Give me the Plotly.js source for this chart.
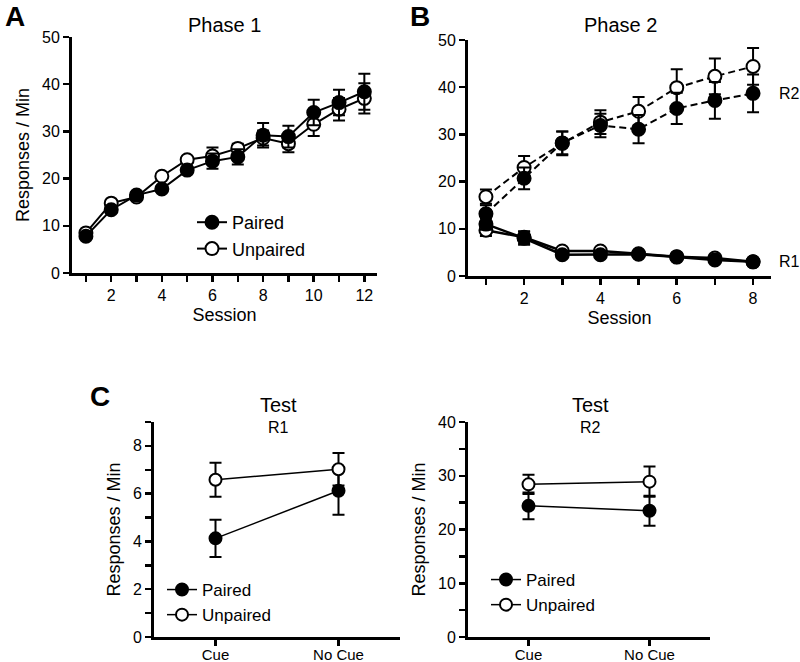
<!DOCTYPE html>
<html>
<head>
<meta charset="utf-8">
<script src="https://cdn.plot.ly/plotly-3.0.1.min.js"></script>
<style>
  html, body { margin: 0; padding: 0; background: #fff; }
  #chart { width: 800px; height: 662px; }
</style>
</head>
<body>
<div id="chart"></div>
<script>
// Phase 1 (panel A)
let sessions1 = [1, 2, 3, 4, 5, 6, 7, 8, 9, 10, 11, 12];
let p1Paired = [7.8, 13.4, 16.5, 17.8, 21.8, 23.7, 24.6, 29.2, 28.9, 34.0, 36.1, 38.4];
let p1PairedErr = [0.5, 0.6, 0.6, 0.6, 0.7, 1.6, 1.6, 2.6, 2.3, 2.7, 2.7, 3.8];
let p1Unpaired = [8.5, 14.8, 16.1, 20.5, 24.0, 24.8, 26.4, 28.6, 27.4, 31.5, 34.7, 37.0];
let p1UnpairedErr = [0.5, 0.6, 0.6, 0.6, 0.7, 1.8, 1.0, 1.6, 1.8, 2.5, 2.4, 3.2];

// Phase 2 (panel B)
let sessions2 = [1, 2, 3, 4, 5, 6, 7, 8];
let r2Paired = [13.2, 20.7, 28.2, 31.9, 31.1, 35.5, 37.2, 38.7];
let r2PairedErr = [1.8, 2.3, 2.4, 2.5, 3.0, 3.3, 3.9, 4.0];
let r2Unpaired = [16.8, 23.0, 28.1, 32.6, 34.9, 39.9, 42.3, 44.4];
let r2UnpairedErr = [1.5, 2.4, 2.5, 2.5, 3.0, 3.9, 3.8, 3.9];
let r1Paired = [11.0, 8.0, 4.5, 4.5, 4.6, 4.0, 3.4, 3.0];
let r1PairedErr = [1.2, 1.4, 0.5, 0.5, 0.5, 0.4, 0.4, 0.3];
let r1Unpaired = [9.7, 8.2, 5.3, 5.3, 4.7, 4.1, 3.8, 3.0];
let r1UnpairedErr = [1.2, 1.3, 0.5, 0.5, 0.4, 0.4, 0.4, 0.3];

// Test (panel C)
let cues = ['Cue', 'No Cue'];
let testR1Paired = [4.13, 6.12];
let testR1PairedErr = [0.78, 1.0];
let testR1Unpaired = [6.58, 7.02];
let testR1UnpairedErr = [0.71, 0.68];
let testR2Paired = [24.4, 23.5];
let testR2PairedErr = [2.5, 2.8];
let testR2Unpaired = [28.4, 28.9];
let testR2UnpairedErr = [1.8, 2.8];

let font = 'Liberation Sans, Arial, sans-serif';

function series(x, y, err, open, xa, ya, opts) {
    return {
        x: x, y: y,
        xaxis: xa, yaxis: ya,
        type: 'scatter',
        mode: 'lines+markers',
        name: opts.name,
        legend: opts.legend,
        legendrank: open ? 2 : 1,
        showlegend: opts.showlegend,
        line: {color: 'black', width: opts.lw, dash: opts.dash || 'solid'},
        marker: {
            symbol: 'circle',
            size: opts.size,
            color: open ? 'white' : 'black',
            line: {color: 'black', width: 2}
        },
        error_y: {type: 'data', array: err, visible: true, color: 'black', thickness: 2, width: 6}
    };
}

var data = [
    series(sessions1, p1Unpaired, p1UnpairedErr, true, 'x', 'y', {name: 'Unpaired', legend: 'legend', showlegend: true, lw: 2, size: 13}),
    series(sessions1, p1Paired, p1PairedErr, false, 'x', 'y', {name: 'Paired', legend: 'legend', showlegend: true, lw: 2, size: 13}),

    series(sessions2, r2Unpaired, r2UnpairedErr, true, 'x2', 'y2', {name: 'Unpaired', showlegend: false, lw: 2, size: 13, dash: '7px,4px'}),
    series(sessions2, r2Paired, r2PairedErr, false, 'x2', 'y2', {name: 'Paired', showlegend: false, lw: 2, size: 13, dash: '7px,4px'}),
    series(sessions2, r1Unpaired, r1UnpairedErr, true, 'x2', 'y2', {name: 'Unpaired', showlegend: false, lw: 2.5, size: 13}),
    series(sessions2, r1Paired, r1PairedErr, false, 'x2', 'y2', {name: 'Paired', showlegend: false, lw: 2.5, size: 13}),

    series(cues, testR1Paired, testR1PairedErr, false, 'x3', 'y3', {name: 'Paired', legend: 'legend2', showlegend: true, lw: 1.5, size: 12}),
    series(cues, testR1Unpaired, testR1UnpairedErr, true, 'x3', 'y3', {name: 'Unpaired', legend: 'legend2', showlegend: true, lw: 1.5, size: 12}),

    series(cues, testR2Paired, testR2PairedErr, false, 'x4', 'y4', {name: 'Paired', legend: 'legend3', showlegend: true, lw: 1.5, size: 12}),
    series(cues, testR2Unpaired, testR2UnpairedErr, true, 'x4', 'y4', {name: 'Unpaired', legend: 'legend3', showlegend: true, lw: 1.5, size: 12})
];

// pixel -> paper helpers
function px(x) { return x / 800; }
function py(y) { return 1 - y / 662; }

function axis(extra) {
    return Object.assign({
        showline: true, linecolor: 'black', linewidth: 3,
        ticks: 'outside', ticklen: 6, tickwidth: 2.5, tickcolor: 'black',
        showgrid: false, zeroline: false,
        tickfont: {family: font, size: 16, color: 'black'}
    }, extra);
}

let yTitle = function (standoff) {
    return {text: 'Responses / Min', font: {family: font, size: 18, color: 'black'}, standoff: standoff};
};
let sessionTitle = {text: 'Session', font: {family: font, size: 18, color: 'black'}, standoff: 6};

function label(text, x, y, size, bold) {
    return {
        text: bold ? '<b>' + text + '</b>' : text,
        x: px(x), y: py(y), xref: 'paper', yref: 'paper',
        xanchor: 'center', yanchor: 'middle', showarrow: false,
        font: {family: font, size: size, color: 'black'}
    };
}

function legendBox(x, y, size) {
    return {
        x: px(x), y: py(y), xanchor: 'left', yanchor: 'top',
        bgcolor: 'rgba(0,0,0,0)', borderwidth: 0,
        font: {family: font, size: size, color: 'black'},
        traceorder: 'normal', tracegroupgap: 0
    };
}

var layout = {
    width: 800, height: 662,
    margin: {l: 0, r: 0, t: 0, b: 0},
    paper_bgcolor: 'white', plot_bgcolor: 'white',
    font: {family: font, color: 'black'},

    xaxis: axis({domain: [px(72), px(377)], range: [0.45, 12.5], tick0: 0, dtick: 2,
        minor: {dtick: 1, ticks: 'outside', ticklen: 6, tickwidth: 2.5, tickcolor: 'black'},
        title: sessionTitle, anchor: 'y'}),
    yaxis: axis({domain: [py(273), py(37)], range: [0, 50], dtick: 10,
        title: yTitle(8), anchor: 'x'}),

    xaxis2: axis({domain: [px(468), px(771)], range: [0.53, 8.47], tick0: 0, dtick: 2,
        minor: {dtick: 1, ticks: 'outside', ticklen: 6, tickwidth: 2.5, tickcolor: 'black'},
        title: sessionTitle, anchor: 'y2'}),
    yaxis2: axis({domain: [py(276), py(40)], range: [0, 50], dtick: 10, anchor: 'x2'}),

    xaxis3: axis({domain: [px(154), px(400)], type: 'category', range: [-0.5, 1.5],
        ticklabelstandoff: -4,
        tickfont: {family: font, size: 15, color: 'black'}, anchor: 'y3'}),
    yaxis3: axis({domain: [py(637), py(422)], range: [0, 9], dtick: 2,
        minor: {dtick: 1, ticks: 'outside', ticklen: 6, tickwidth: 2.5, tickcolor: 'black'},
        title: yTitle(8), anchor: 'x3'}),

    xaxis4: axis({domain: [px(468), px(710)], type: 'category', range: [-0.5, 1.5],
        ticklabelstandoff: -4,
        tickfont: {family: font, size: 15, color: 'black'}, anchor: 'y4'}),
    yaxis4: axis({domain: [py(637), py(422)], range: [0, 40], dtick: 10,
        minor: {dtick: 5, ticks: 'outside', ticklen: 6, tickwidth: 2.5, tickcolor: 'black'},
        title: yTitle(8), anchor: 'x4'}),

    legend: legendBox(192, 204, 18),
    legend2: legendBox(162, 572, 17),
    legend3: legendBox(486, 562, 17),

    annotations: [
        label('A', 15, 16, 28, true),
        label('B', 420, 16, 28, true),
        label('C', 100, 397, 28, true),
        label('Phase 1', 224, 25, 20),
        label('Phase 2', 620, 25, 20),
        label('Test', 278, 405, 20),
        label('R1', 278, 428, 16),
        label('Test', 590, 405, 20),
        label('R2', 590, 428, 16),
        label('R2', 789, 93, 16),
        label('R1', 789, 262, 16)
    ],
    showlegend: true
};

Plotly.newPlot('chart', data, layout, {displayModeBar: false, staticPlot: true});
</script>
</body>
</html>
